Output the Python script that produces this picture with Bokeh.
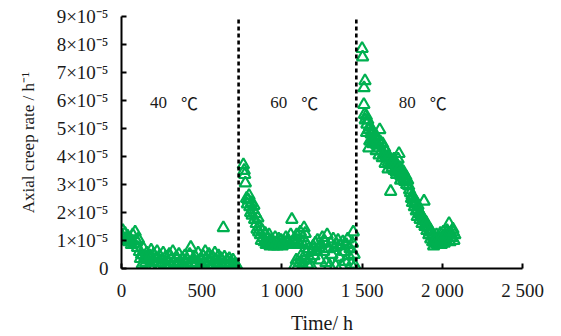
from bokeh.plotting import figure
from bokeh.models import Range1d, FixedTicker, ColumnDataSource
from bokeh.core.properties import value
from bokeh.embed import file_html
from bokeh.resources import INLINE

# ---- data (creep rate in units of 1e-5 h^-1) ----
t40 = [0, 8, 15, 22, 30, 38, 45, 55, 62, 70, 78, 85, 92, 100, 105, 112, 118, 125, 130, 138,
       145, 150, 158, 165, 172, 178, 185, 192, 200, 208, 215, 222, 230, 238, 245, 252, 260, 268,
       275, 282, 290, 298, 305, 312, 320, 328, 335, 342, 350, 358, 365, 372, 380, 388, 395, 402,
       410, 418, 425, 432, 440, 448, 455, 462, 470, 478, 485, 492, 500, 508, 515, 522, 530, 538,
       545, 552, 560, 568, 575, 582, 590, 598, 605, 612, 620, 628, 635, 642, 650, 658, 665, 672,
       680, 688, 695, 702, 710, 718]
r40 = [1.2, 1.35, 1.05, 1.25, 1.0, 1.15, 0.95, 1.05, 0.85, 1.2, 0.9, 1.3, 1.0, 0.75, 1.05, 0.6,
       0.35, 0.5, 0.15, 0.7, 0.4, 0.2, 0.55, 0.3, 0.1, 0.45, 0.65, 0.25, 0.5, 0.1, 0.35, 0.6, 0.2,
       0.45, 0.1, 0.3, 0.55, 0.15, 0.4, 0.1, 0.25, 0.5, 0.1, 0.35, 0.6, 0.2, 0.1, 0.4, 0.15, 0.5,
       0.25, 0.1, 0.35, 0.1, 0.45, 0.2, 0.3, 0.1, 0.5, 0.75, 0.15, 0.35, 0.1, 0.4, 0.2, 0.55, 0.1,
       0.3, 0.1, 0.45, 0.2, 0.6, 0.35, 0.1, 0.5, 0.25, 0.1, 0.4, 0.15, 0.55, 0.3, 0.1, 0.45, 0.2,
       0.35, 0.1, 1.45, 0.4, 0.15, 0.3, 0.1, 0.35, 0.2, 0.1, 0.3, 0.1, 0.15, 0.1]

t60 = [760, 765, 768, 772, 780, 785, 790, 795, 800, 805, 810, 815, 820, 825, 830, 835, 840, 845,
       850, 855, 860, 866, 872, 878, 884, 890, 896, 902, 908, 914, 920, 926, 932, 938, 944, 950,
       958, 965, 972, 980, 988, 995, 1002, 1010, 1018, 1025, 1032, 1040, 1048, 1055, 1062, 1070,
       1078, 1085, 1092, 1100, 1108, 1115, 1122, 1130, 1138, 1145, 1150,
       1080, 1090, 1100, 1110, 1120, 1130, 1140, 1150, 1160, 1168, 1175, 1180, 1188, 1195, 1200,
       1208, 1215, 1222, 1230, 1238, 1245, 1252, 1260, 1268, 1275, 1282, 1290, 1298, 1305, 1312,
       1320, 1328, 1335, 1342, 1350, 1358, 1365, 1372, 1380, 1388, 1395, 1402, 1410, 1418, 1425,
       1432, 1440, 1445, 1450, 1455]
r60 = [3.7, 3.5, 3.35, 3.05, 2.5, 2.3, 2.45, 2.6, 2.2, 2.0, 2.35, 1.9, 2.1, 2.25, 1.75, 1.95, 1.6,
       1.4, 1.8, 1.3, 1.5, 1.2, 1.0, 1.35, 1.1, 0.95, 1.25, 0.85, 1.05, 0.9, 1.2, 0.8, 1.0, 0.85,
       0.95, 0.8, 1.1, 0.9, 0.8, 1.05, 0.85, 1.0, 0.8, 0.95, 0.85, 1.1, 0.9, 1.0, 0.85, 1.2, 1.75,
       0.95, 1.05, 0.9, 1.2, 1.0, 0.85, 1.3, 0.95, 1.1, 1.45, 1.25, 0.9,
       0.1, 0.3, 0.1, 0.2, 0.45, 0.1, 0.3, 0.55, 0.15, 0.7, 0.35, 0.1, 0.6, 0.8, 0.45, 0.9, 0.65,
       1.0, 0.75, 0.3, 0.85, 1.1, 0.6, 0.95, 0.2, 1.2, 0.7, 0.1, 0.9, 0.5, 1.05, 0.75, 0.1, 0.85,
       1.0, 0.4, 0.8, 0.1, 0.95, 0.6, 0.25, 0.85, 1.05, 0.45, 0.7, 0.15, 0.9, 1.3, 0.5, 0.1]

t80 = [1500, 1503, 1518, 1512, 1511, 1515, 1520, 1526, 1530, 1535, 1540, 1542, 1546, 1552, 1556,
       1560, 1565, 1570, 1575, 1580, 1586, 1592, 1598, 1604, 1610, 1616, 1622, 1628, 1634, 1640,
       1646, 1652, 1658, 1664, 1670, 1676, 1678, 1682, 1688, 1694, 1700, 1706, 1712, 1718, 1724,
       1730, 1734, 1738, 1742, 1746, 1750, 1755, 1760, 1766, 1772, 1778, 1784, 1790, 1796, 1802,
       1808, 1814, 1820, 1826, 1832, 1838, 1844, 1850, 1856, 1862, 1868, 1874, 1880, 1886, 1892,
       1898, 1904, 1910, 1916, 1922, 1928, 1934, 1940, 1946, 1952, 1958, 1964, 1970, 1976, 1982,
       1988, 1994, 2000, 2006, 2012, 2018, 2024, 2030, 2036, 2042, 2048, 2054, 2060, 2066, 2072,
       2078,
       1528, 1548, 1568, 1588, 1606, 1626, 1644, 1662, 1698, 1715, 1728, 1740, 1758, 1776, 1812,
       1830, 1848, 1866, 1884, 1902, 1920, 1938, 1956, 1990, 2020, 2050, 2068]
r80 = [7.85, 7.55, 6.7, 6.45, 5.85, 5.5, 5.3, 5.45, 5.15, 5.3, 4.95, 4.3, 5.05, 5.05, 4.8, 4.9,
       4.6, 4.85, 4.7, 4.5, 4.75, 4.4, 4.6, 4.3, 4.95, 4.5, 4.2, 4.45, 4.1, 4.3, 3.95, 4.15, 4.0,
       3.8, 3.95, 3.7, 2.75, 3.85, 3.6, 3.75, 3.5, 3.7, 3.45, 3.65, 3.9, 4.1, 3.4, 3.6, 3.3, 3.5,
       3.3, 3.4, 3.2, 3.1, 3.3, 3.0, 3.15, 2.95, 2.8, 2.7, 2.5, 2.35, 2.55, 2.2, 2.4, 2.05, 1.85,
       2.1, 1.95, 1.75, 1.9, 1.6, 1.8, 2.4, 1.5, 1.65, 1.35, 1.5, 1.2, 1.4, 1.05, 1.3, 0.95, 0.8,
       1.1, 0.9, 1.2, 0.85, 1.05, 0.95, 1.25, 0.85, 1.1, 1.3, 0.9, 1.15, 1.0, 1.35, 1.2, 1.6, 0.95,
       1.25, 1.1, 1.4, 1.0, 1.2,
       4.85, 4.55, 4.45, 4.2, 4.05, 3.95, 3.75, 3.55, 3.9, 3.35, 3.55, 3.15, 3.45, 3.2, 2.6,
       2.3, 2.25, 1.95, 1.7, 1.5, 1.3, 1.15, 1.0, 1.05, 1.2, 1.1, 1.3]

stage_bounds = [730, 1464]
stage_numbers = ["40", "60", "80"]
stage_units = ["\u2103", "\u2103", "\u2103"]
stage_label_x = [178, 928, 1728]
stage_label_y = [5.94, 5.94, 5.94]

x_ticks = [0, 500, 1000, 1500, 2000, 2500]
x_tick_labels = ["0", "500", "1 000", "1 500", "2 000", "2 500"]
y_ticks = [0, 1, 2, 3, 4, 5, 6, 7, 8, 9]
y_tick_labels = ["0"] + [f"{i}\u00d710\u207b\u2075" for i in range(1, 10)]

GREEN = "#00B050"
FONT = "Liberation Serif"
TXT = "#1a1a1a"

p = figure(width=561, height=336, output_backend="svg", toolbar_location=None,
           x_range=Range1d(0, 2500), y_range=Range1d(0, 9),
           min_border_left=121, min_border_right=39, min_border_top=16, min_border_bottom=68)
p.outline_line_color = None
p.xgrid.visible = False
p.ygrid.visible = False
p.background_fill_color = "white"
p.border_fill_color = "white"

t_all = t40 + t60 + t80
r_all = r40 + r60 + r80
src = ColumnDataSource(dict(t=t_all, r=r_all))
p.scatter("t", "r", source=src, marker="triangle", size=11.5, fill_color=None,
          line_color=GREEN, line_width=2.2)

for b in stage_bounds:
    p.line([b, b], [0, 9], line_color="black", line_width=2.6, line_dash="4 3")

p.text(x=stage_label_x, y=stage_label_y, text=stage_numbers, text_font=value(FONT),
       text_font_size="17px", text_color=TXT, text_align="left", text_baseline="middle")
p.text(x=stage_label_x, y=stage_label_y, text=stage_units, text_font=value("Noto Sans CJK SC"),
       text_font_size="17px", text_color=TXT, text_align="left", text_baseline="middle",
       x_offset=31)

for ax in (p.xaxis[0], p.yaxis[0]):
    ax.axis_line_width = 2
    ax.axis_line_color = "black"
    ax.major_tick_line_width = 2
    ax.major_tick_in = 5
    ax.major_tick_out = 0
    ax.minor_tick_line_color = None
    ax.major_label_text_font = FONT
    ax.major_label_text_font_size = "19px"
    ax.major_label_text_color = TXT
    ax.axis_label_text_font = FONT
    ax.axis_label_text_font_style = "normal"
    ax.axis_label_text_color = TXT

p.xaxis.axis_label_text_font_size = "20px"
p.yaxis.axis_label_text_font_size = "17px"
p.xaxis.ticker = FixedTicker(ticks=x_ticks)
p.xaxis.major_label_overrides = dict(zip(x_ticks, x_tick_labels))
p.yaxis.ticker = FixedTicker(ticks=y_ticks)
p.yaxis.major_label_overrides = dict(zip(y_ticks, y_tick_labels))
p.xaxis.axis_label = "Time/ h"
p.yaxis.axis_label = "Axial creep rate / h\u207b\u00b9"
p.xaxis.major_label_standoff = 11
p.xaxis.axis_label_standoff = 8
p.yaxis.major_label_standoff = 13
p.yaxis.axis_label_standoff = 16

open("out.html", "w").write(file_html(p, INLINE))
